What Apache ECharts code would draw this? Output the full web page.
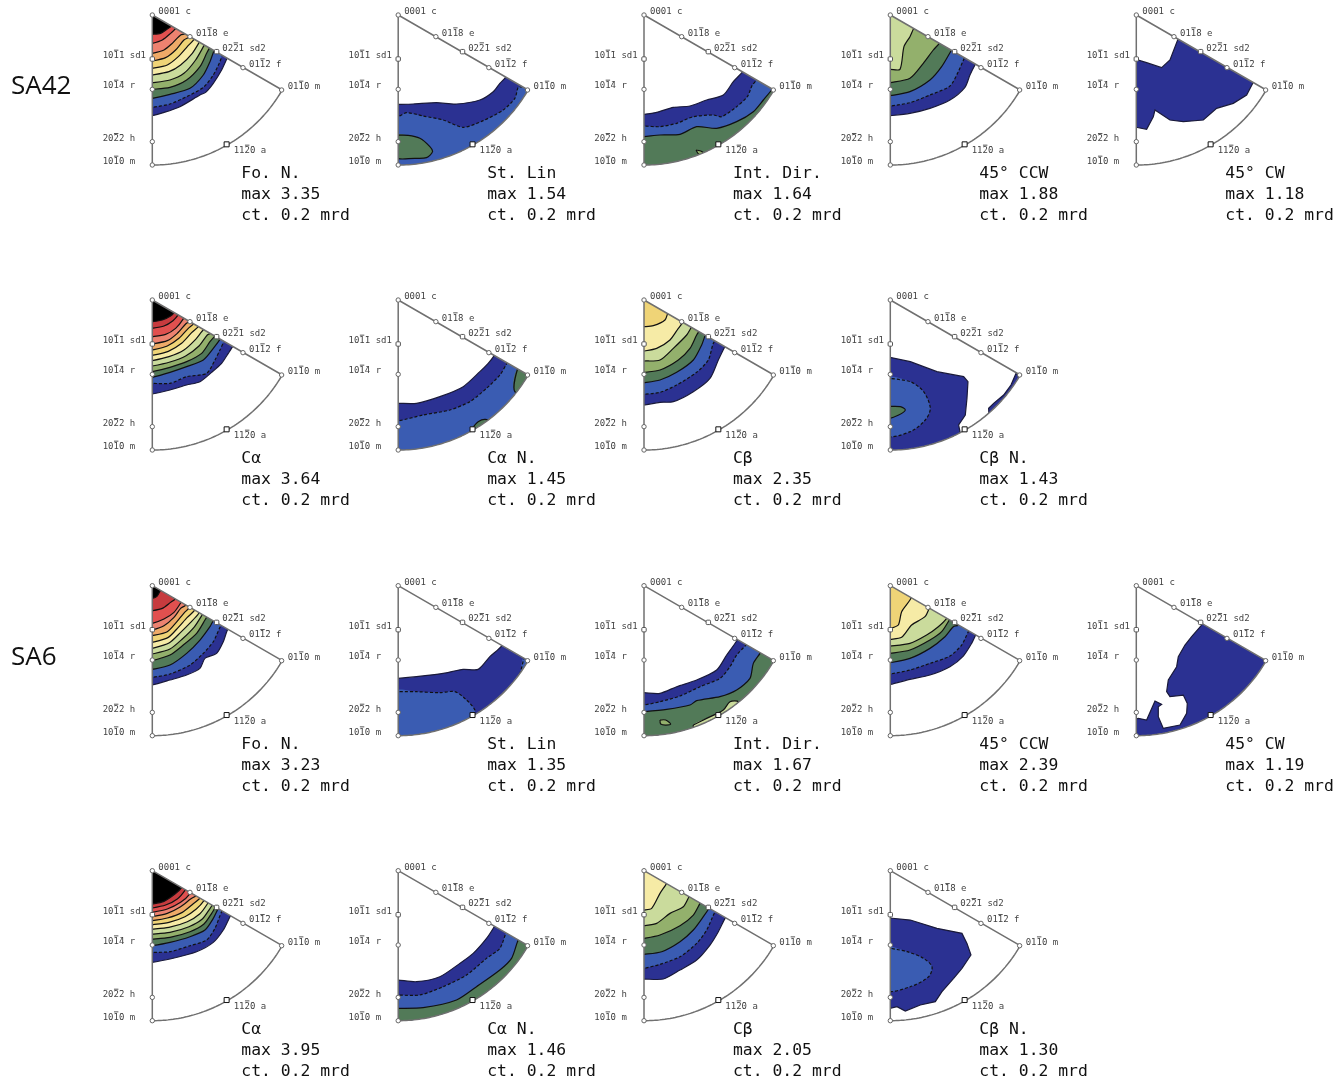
<!DOCTYPE html>
<html><head><meta charset="utf-8">
<style>html,body{margin:0;padding:0;background:#fff}#c{width:1337px;height:1085px}</style>
<script src="https://cdn.jsdelivr.net/npm/echarts@6/dist/echarts.min.js"></script>
</head><body><div id="c"></div>
<script>
// level colours, 1 = lowest contour ... 12 = highest
const levelColors = [null,'#2b3192','#3a5cb2','#527a58','#93b06c','#cadb9c','#f6eba6','#efd477','#eeaa68','#ec8270','#e1504f','#c73b3e','#000000'];
// Each layer: [level, closure, contour points] in wedge units (3 units = 1px, origin at 0001 c)
const foN_SA42 = [
[1,'in',[[0,302],[33,293],[83,275],[143,240],[160,232],[183,205],[208,165],[226,127]]],
[2,'in',[[0,277],[53,267],[103,245],[153,217],[183,180],[203,140],[210,120]]],
[3,'in',[[0,250],[53,238],[113,220],[153,180],[173,140],[185,108]]],
[4,'in',[[0,223],[53,217],[103,195],[143,155],[163,115],[172,98]]],
[5,'in',[[0,203],[53,195],[95,175],[130,135],[155,92]]],
[6,'in',[[0,180],[50,170],[85,150],[120,115],[142,80]]],
[7,'in',[[0,160],[45,150],[78,125],[105,95],[126,72]]],
[8,'in',[[0,138],[40,128],[70,105],[95,75],[112,65]]],
[9,'in',[[0,115],[35,105],[60,85],[85,60],[100,56]]],
[10,'in',[[0,85],[30,75],[55,55],[70,40]]],
[12,'in',[[0,58],[25,55],[45,42],[58,33]]]
];
const stLin_SA42 = [
[1,'out',[[0,268],[45,267],[115,263],[175,267],[245,255],[285,230],[305,205],[322,187]]],
[2,'out',[[0,305],[25,293],[75,303],[135,315],[195,337],[255,317],[315,285],[350,250],[360,217],[372,215]]],
[3,'closed',[[-10,361],[30,361],[65,370],[95,395],[103,410],[85,428],[50,430],[-10,427]]]
];
const intDir_SA42 = [
[1,'out',[[0,298],[38,292],[88,277],[138,273],[188,255],[238,240],[268,200],[296,170]]],
[2,'out',[[0,333],[48,335],[98,325],[148,305],[208,300],[233,305],[278,275],[310,245],[325,210],[338,195]]],
[3,'out',[[0,365],[48,360],[108,358],[158,335],[218,340],[278,320],[328,290],[358,255],[385,222]]],
[4,'closed',[[156,405],[170,408],[180,415],[165,418]]]
];
const ccw_SA42 = [
[1,'in',[[0,302],[59,295],[119,280],[179,255],[224,217],[239,180],[254,150]]],
[2,'in',[[0,273],[59,263],[119,240],[179,213],[204,170],[222,130]]],
[3,'in',[[0,242],[59,230],[119,195],[154,155],[182,108]]],
[4,'in',[[0,203],[59,190],[99,145],[129,105],[147,85]]],
[5,'in',[[0,163],[29,163],[41,95],[59,65],[69,43]]]
];
const cw_SA42 = [
[1,'closed',[[-10,130],[31,143],[76,158],[101,135],[126,70],[360,190],[351,202],[331,240],[291,265],[241,280],[201,315],[141,320],[101,315],[56,285],[51,305],[31,343],[-10,335]]]
];
const ca_SA42 = [
[1,'in',[[0,282],[53,270],[103,255],[143,245],[178,217],[208,190],[228,160],[241,140]]],
[2,'in',[[0,250],[53,250],[103,230],[163,220],[188,180],[203,150],[215,125]]],
[3,'in',[[0,232],[53,217],[103,200],[153,180],[183,145],[205,115]]],
[4,'in',[[0,215],[53,202],[103,185],[148,160],[173,125],[190,105]]],
[5,'in',[[0,198],[53,186],[100,168],[140,138],[165,105],[178,98]]],
[6,'in',[[0,182],[50,170],[95,150],[130,118],[155,88],[165,90]]],
[7,'in',[[0,166],[48,154],[88,130],[118,98],[140,78]]],
[8,'in',[[0,150],[45,138],[80,115],[108,85],[125,70]]],
[9,'in',[[0,132],[45,122],[75,100],[100,72],[112,62]]],
[10,'in',[[0,110],[40,103],[70,85],[92,58]]],
[11,'in',[[0,85],[35,78],[62,62],[78,44]]],
[12,'in',[[0,65],[30,60],[55,48],[65,38]]]
];
const caN_SA42 = [
[1,'out',[[0,310],[55,310],[125,290],[195,260],[245,215],[270,190],[288,167]]],
[2,'out',[[0,363],[75,345],[155,330],[215,305],[265,265],[305,225],[325,192]]],
[3,'closed',[[358,207],[350,275],[420,300],[430,200]]],
[3,'closed',[[222,385],[240,365],[262,358],[280,370],[240,395]]]
];
const cb_SA42 = [
[1,'in',[[0,315],[48,307],[88,305],[148,275],[198,235],[223,180],[241,143]]],
[2,'in',[[0,283],[48,277],[98,255],[158,217],[193,180],[208,130]]],
[3,'in',[[0,248],[48,240],[98,217],[148,180],[173,135],[186,100]]],
[4,'in',[[0,217],[48,210],[103,180],[138,145],[158,105],[168,90]]],
[5,'in',[[0,183],[48,180],[88,145],[128,105],[143,80]]],
[6,'in',[[0,153],[38,145],[78,120],[103,85],[118,65]]],
[7,'in',[[0,80],[28,77],[63,60],[73,35]]]
];
const cbN_SA42 = [
[1,'closed',[[-10,170],[60,185],[140,215],[220,230],[233,245],[230,295],[225,345],[205,375],[212,410],[215,440],[150,500],[-10,500]]],
[1,'closed',[[378,218],[362,255],[340,285],[310,310],[295,325],[296,345],[330,320],[400,260]]],
[2,'closed',[[-10,235],[60,245],[100,275],[120,325],[105,360],[60,395],[-10,405]]],
[3,'closed',[[-10,320],[30,320],[45,330],[25,345],[-10,355]]]
];
const foN_SA6 = [
[1,'in',[[0,298],[53,283],[103,268],[143,248],[158,218],[193,203],[213,168],[226,131]]],
[2,'in',[[0,275],[53,265],[113,238],[153,203],[183,168],[203,125]]],
[3,'in',[[0,251],[53,238],[103,203],[143,163],[173,123],[181,108]]],
[4,'in',[[0,225],[53,208],[93,178],[133,143],[158,103]]],
[5,'in',[[0,205],[53,190],[90,160],[125,125],[148,90]]],
[6,'in',[[0,188],[50,172],[85,140],[115,110],[138,85]]],
[7,'in',[[0,170],[48,155],[78,125],[105,95],[126,75]]],
[8,'in',[[0,150],[45,138],[72,110],[95,82],[112,65]]],
[9,'in',[[0,133],[35,120],[65,95],[85,68],[100,58]]],
[10,'in',[[0,113],[35,100],[65,80],[85,52]]],
[11,'in',[[0,75],[30,68],[55,50],[68,40]]],
[12,'in',[[0,38],[14,32],[24,15]]]
];
const stLin_SA6 = [
[1,'out',[[0,278],[55,273],[135,263],[195,251],[240,251],[275,213],[310,181]]],
[2,'closed',[[-10,318],[55,318],[125,321],[170,318],[205,343],[230,373],[225,395],[225,480],[-10,480]]],
[2,'closed',[[378,213],[366,262],[358,280],[420,300],[430,220]]]
];
const intDir_SA6 = [
[1,'out',[[0,321],[48,323],[98,303],[158,283],[218,253],[248,208],[278,166]]],
[2,'out',[[0,358],[48,348],[108,331],[168,303],[228,278],[258,243],[278,208],[308,175]]],
[3,'out',[[0,378],[68,371],[138,358],[158,345],[228,333],[278,313],[318,278],[328,233],[348,203]]],
[5,'closed',[[148,418],[188,398],[238,373],[258,348],[283,348],[278,373],[245,395],[200,425],[150,440]]],
[4,'closed',[[48,403],[65,403],[80,415],[65,418],[50,415]]]
];
const ccw_SA6 = [
[1,'in',[[0,296],[59,281],[119,268],[179,243],[219,211],[244,173],[257,146]]],
[2,'in',[[0,265],[59,253],[119,233],[179,211],[214,178],[234,138]]],
[3,'in',[[0,231],[59,218],[119,188],[164,153],[189,123],[204,118]]],
[4,'in',[[0,203],[59,193],[119,163],[154,138],[177,103]]],
[5,'in',[[0,181],[59,173],[109,148],[144,123],[169,98]]],
[6,'in',[[0,161],[34,155],[64,118],[104,93],[119,63]]],
[7,'in',[[0,128],[24,118],[34,78],[59,43]]]
];
const cw_SA6 = [
[1,'closed',[[196,118],[166,153],[146,178],[126,213],[121,243],[96,283],[91,318],[101,333],[141,328],[153,353],[151,383],[131,418],[81,428],[66,393],[66,363],[76,356],[56,346],[31,403],[6,398],[-10,403],[-10,500],[300,500],[500,300],[386,200],[196,100]]]
];
const ca_SA6 = [
[1,'in',[[0,275],[53,265],[133,243],[183,215],[213,178],[233,138]]],
[2,'in',[[0,245],[53,243],[113,225],[163,208],[188,173],[208,123]]],
[3,'in',[[0,225],[53,215],[113,198],[158,178],[183,143],[198,113]]],
[4,'in',[[0,205],[53,200],[113,183],[155,160],[178,128],[190,108]]],
[5,'in',[[0,190],[53,185],[110,168],[150,145],[172,115],[180,103]]],
[6,'in',[[0,175],[50,170],[105,153],[142,130],[165,100]]],
[7,'in',[[0,162],[50,155],[98,138],[132,115],[155,90]]],
[8,'in',[[0,150],[45,142],[90,125],[122,100],[145,80]]],
[9,'in',[[0,138],[45,128],[85,108],[115,85],[132,74]]],
[10,'in',[[0,125],[45,115],[85,95],[112,70]]],
[11,'in',[[0,112],[40,103],[75,85],[100,56]]],
[12,'in',[[0,100],[35,92],[68,70],[88,51]]]
];
const caN_SA6 = [
[1,'out',[[0,328],[55,333],[125,318],[185,278],[225,248],[265,203],[288,168]]],
[2,'out',[[0,373],[65,373],[135,348],[205,313],[265,263],[305,233],[325,183]]],
[3,'out',[[0,413],[75,411],[175,388],[235,348],[305,298],[340,263],[360,208]]]
];
const cb_SA6 = [
[1,'in',[[0,325],[58,325],[108,298],[158,268],[198,223],[223,183],[243,143]]],
[2,'in',[[0,293],[48,281],[108,258],[158,218],[188,178],[213,123]]],
[3,'in',[[0,251],[53,243],[108,213],[148,178],[178,138],[198,108]]],
[4,'in',[[0,203],[48,193],[108,165],[148,133],[168,98]]],
[5,'in',[[0,165],[38,158],[78,128],[118,108],[135,78]]],
[6,'in',[[0,118],[23,113],[48,68],[66,41]]]
];
const cbN_SA6 = [
[1,'closed',[[-10,141],[60,148],[140,173],[215,188],[230,218],[242,253],[215,293],[190,323],[155,363],[135,393],[90,403],[45,421],[20,408],[-10,415]]],
[2,'closed',[[-10,231],[50,243],[100,263],[125,288],[115,318],[60,348],[-10,358]]]
];

const panelNames = ['Fo. N.','St. Lin','Int. Dir.','45° CCW','45° CW','Cα','Cα N.','Cβ','Cβ N.'];
const maxSA42 = ['3.35','1.54','1.64','1.88','1.18','3.64','1.45','2.35','1.43'];
const maxSA6  = ['3.23','1.35','1.67','2.39','1.19','3.95','1.46','2.05','1.30'];
const countLabel = 'ct. 0.2 mrd';
const layersSA42 = [foN_SA42,stLin_SA42,intDir_SA42,ccw_SA42,cw_SA42,ca_SA42,caN_SA42,cb_SA42,cbN_SA42];
const layersSA6  = [foN_SA6,stLin_SA6,intDir_SA6,ccw_SA6,cw_SA6,ca_SA6,caN_SA6,cb_SA6,cbN_SA6];
const sampleNames = ['SA42','SA6'];

// crystallographic reference poles on the wedge: label, x, y, marker, label dx, label dy (wedge units)
const poles = [
 ['0001 c',0,0,'c',18,-10],
 ['011\u03048 e',113,65,'c',131,55],
 ['022\u03041 sd2',193,110,'s',210,100],
 ['011\u03042 f',272,158,'c',290,148],
 ['011\u03040 m',388,225,'c',406,215],
 ['112\u03040 a',223,388,'a',244,407],
 ['101\u03041 sd1',0,132,'s',-149,122],
 ['101\u03044 r',0,223,'c',-149,212],
 ['202\u03042 h',0,380,'c',-149,372],
 ['101\u03040 m',0,450,'c',-149,440]
];

const colX = [152.3,398.2,644,890.3,1136.3];
const rowY = [15,300,585.7,870.7];
const grids=[],xAxes=[],yAxes=[],series=[],graphics=[];
const R=450, CH=5.42;
function sector(){const a=[[0,0]];for(let i=0;i<=60;i++){const t=i/60*Math.PI/3;a.push([R*Math.sin(t),R*Math.cos(t)]);}return a;}
const sectorPts=sector();
function close(l){
  const [lvl,kind,pts]=l;
  if(kind==='closed')return {poly:pts,line:pts.concat([pts[0]]),smooth:lvl>1?0.3:0};
  const f=[-10,pts[0][1]],last=pts[pts.length-1],e=[last[0]+30,last[1]-52];
  const line=[f].concat(pts,[e]);
  if(kind==='in')return {poly:line.concat([[-10,-10]]),line,smooth:0.25};
  return {poly:line.concat([[640,300],[640,720],[-10,720]]),line,smooth:0.25};
}
function addPanel(layers,name,maxv,ox,oy){
  const i=grids.length;
  grids.push({left:ox,top:oy,width:150,height:150,show:false});
  xAxes.push({type:'value',gridIndex:i,min:0,max:450,show:false});
  yAxes.push({type:'value',gridIndex:i,min:0,max:450,inverse:true,show:false});
  series.push({type:'custom',xAxisIndex:i,yAxisIndex:i,coordinateSystem:'cartesian2d',silent:true,z:2,clip:false,
    data:layers.map((l,k)=>[k,l[0]]),
    renderItem(p,api){
      const l=layers[p.dataIndex],c=close(l),P=a=>a.map(q=>api.coord(q));
      const dash=l[0]===2?[3,2]:null;
      return {type:'group',clipPath:{type:'polygon',shape:{points:P(sectorPts)}},children:[
        {type:'polygon',shape:{points:P(c.poly),smooth:c.smooth},style:{fill:levelColors[l[0]],stroke:null}},
        {type:'polyline',shape:{points:P(c.line),smooth:c.smooth},style:{fill:null,stroke:l[0]===1?'#1a1a3a':'#111',lineWidth:1.2,lineDash:dash}}
      ]};
    }});
  series.push({type:'line',xAxisIndex:i,yAxisIndex:i,silent:true,z:3,symbol:'none',animation:false,clip:false,
    lineStyle:{color:'#707070',width:1.5},data:sectorPts.concat([[0,0]])});
  series.push({type:'custom',xAxisIndex:i,yAxisIndex:i,coordinateSystem:'cartesian2d',silent:true,z:4,clip:false,
    data:poles.map((q,k)=>[q[1],q[2],k]),
    renderItem(p,api){
      const q=poles[p.dataIndex],m=api.coord([q[1],q[2]]),t=api.coord([q[4],q[5]]);
      const mk=q[3]==='c'?{type:'circle',shape:{cx:m[0],cy:m[1],r:2.2},style:{fill:'#fff',stroke:'#666',lineWidth:1}}
        :q[3]==='s'?{type:'rect',shape:{x:m[0]-2.2,y:m[1]-2.2,width:4.4,height:4.4,r:1},style:{fill:'#fff',stroke:'#555',lineWidth:1}}
        :{type:'rect',shape:{x:m[0]-2.5,y:m[1]-2.5,width:5,height:5},style:{fill:'#fff',stroke:'#111',lineWidth:1}};
      const kids=[mk,{type:'text',x:t[0],y:t[1],style:{text:q[0],fill:'#444',font:'9px "DejaVu Sans Mono"',textAlign:'left',textVerticalAlign:'middle'}}];
      if(q[0].indexOf('\u0304')>=0) kids.push({type:'line',shape:{x1:t[0]+2*CH+0.5,y1:t[1]-5.5,x2:t[0]+3*CH-0.5,y2:t[1]-5.5},style:{stroke:'#444',lineWidth:0.9}});
      return {type:'group',children:kids};
    }});
  [name,'max '+maxv,countLabel].forEach((s,k)=>{
    graphics.push({type:'text',x:ox+89,y:oy+159+k*21,silent:true,
      style:{text:s,fill:'#111',font:'16.4px "DejaVu Sans Mono"',textAlign:'left',textVerticalAlign:'middle'}});
  });
}
[[layersSA42,maxSA42,0],[layersSA6,maxSA6,2]].forEach(([ls,mx,r])=>{
  ls.forEach((l,k)=>{
    const row=k<5?r:r+1,col=k<5?k:k-5;
    addPanel(l,panelNames[k],mx[k],colX[col],rowY[row]);
  });
});
graphics.push({type:'text',x:11,y:87,silent:true,style:{text:sampleNames[0],fill:'#111',font:'26px "Open Sans"',textVerticalAlign:'middle'}});
graphics.push({type:'text',x:11,y:658,silent:true,style:{text:sampleNames[1],fill:'#111',font:'26px "Open Sans"',textVerticalAlign:'middle'}});
const chart=echarts.init(document.getElementById('c'));
chart.setOption({animation:false,backgroundColor:'#fff',grid:grids,xAxis:xAxes,yAxis:yAxes,series,graphic:{elements:graphics}});
</script></body></html>
